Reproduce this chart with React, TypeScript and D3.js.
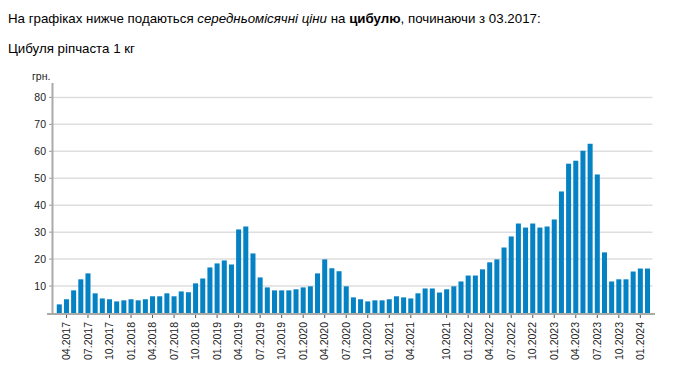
import React from "react";
import * as d3 from "d3";

const months: string[] = [
  "03.2017","04.2017","05.2017","06.2017","07.2017","08.2017","09.2017","10.2017","11.2017","12.2017",
  "01.2018","02.2018","03.2018","04.2018","05.2018","06.2018","07.2018","08.2018","09.2018","10.2018","11.2018","12.2018",
  "01.2019","02.2019","03.2019","04.2019","05.2019","06.2019","07.2019","08.2019","09.2019","10.2019","11.2019","12.2019",
  "01.2020","02.2020","03.2020","04.2020","05.2020","06.2020","07.2020","08.2020","09.2020","10.2020","11.2020","12.2020",
  "01.2021","02.2021","03.2021","04.2021","05.2021","06.2021","08.2021","09.2021","10.2021","11.2021","12.2021",
  "01.2022","02.2022","03.2022","04.2022","05.2022","06.2022","07.2022","08.2022","09.2022","10.2022","11.2022","12.2022",
  "01.2023","02.2023","03.2023","04.2023","05.2023","06.2023","07.2023","08.2023","09.2023","10.2023","11.2023","12.2023",
  "01.2024","02.2024"
];

const prices: number[] = [
  3.2, 5.1, 8.4, 12.5, 14.7, 7.3, 5.4, 5.1, 4.3, 4.7,
  5.1, 4.7, 5.1, 6.2, 6.2, 7.3, 6.2, 8.0, 7.7, 11.0, 12.8, 16.9,
  18.4, 19.5, 18.0, 31.0, 32.1, 22.1, 13.2, 9.5, 8.4, 8.4, 8.4, 8.8,
  9.5, 9.9, 14.7, 19.9, 16.6, 15.5, 9.9, 5.8, 5.1, 4.3, 4.7, 4.7,
  5.1, 6.2, 5.8, 5.4, 7.3, 9.1, 9.1, 7.6, 8.8, 9.9, 11.7,
  13.9, 13.9, 16.2, 18.8, 19.9, 24.3, 28.4, 33.2, 31.7, 33.2, 31.7, 32.1,
  34.7, 45.1, 55.4, 56.5, 60.2, 62.8, 51.4, 22.5, 11.7, 12.5, 12.5, 15.4,
  16.5, 16.5
];

const yTicks: number[] = [10, 20, 30, 40, 50, 60, 70, 80];
const tickMonths: string[] = ["01", "04", "07", "10"];

export default function App() {
  const W = 678, H = 381;
  const x = d3.scaleBand<string>().domain(months).range([55.7, 651.1]).paddingInner(0.3).paddingOuter(0.15);
  const y = d3.scaleLinear().domain([0, 80]).range([313, 97.4]);
  const font = "Arial, 'Liberation Sans', sans-serif";
  const xTickCats = months.filter((m) => tickMonths.includes(m.slice(0, 2)));
  const baseY = y(0);

  return (
    <svg width={W} height={H} style={{ position: "absolute", left: 0, top: 0, background: "#fff" }} fontFamily={font}>
      <rect x={0} y={0} width={W} height={H} fill="#fff" />
      <text x={8} y={23} fontSize={13.3} fill="#000">
        <tspan>На графіках нижче подаються </tspan>
        <tspan fontStyle="italic">середньомісячні ціни</tspan>
        <tspan> на </tspan>
        <tspan fontWeight="bold">цибулю</tspan>
        <tspan>, починаючи з 03.2017:</tspan>
      </text>
      <text x={8} y={53} fontSize={13.3} fill="#000">Цибуля ріпчаста 1 кг</text>

      {yTicks.map((t) => (
        <g key={t}>
          <line x1={53} x2={652.5} y1={y(t)} y2={y(t)} stroke="#dedede" strokeWidth={1.5} />
          <line x1={49} x2={53} y1={y(t)} y2={y(t)} stroke="#999" strokeWidth={1} />
          <text x={46} y={y(t)} dy="0.35em" textAnchor="end" fontSize={10.5} fill="#222">{t}</text>
        </g>
      ))}
      <text x={32} y={80} fontSize={10.5} fill="#222">грн.</text>

      {months.map((m, i) => (
        <rect key={m} x={x(m)} y={y(prices[i])} width={x.bandwidth()} height={baseY - y(prices[i])} fill="#0582c3" />
      ))}

      <line x1={52.5} x2={52.5} y1={83} y2={314} stroke="#aaa" strokeWidth={2} />
      <line x1={47} x2={655} y1={314} y2={314} stroke="#aaa" strokeWidth={2} />

      {xTickCats.map((m) => {
        const cx = (x(m) as number) + x.bandwidth() / 2;
        return (
          <g key={m}>
            <line x1={cx} x2={cx} y1={315} y2={318} stroke="#555" strokeWidth={1} />
            <text transform={`translate(${cx},322) rotate(-90)`} dy="0.35em" textAnchor="end" fontSize={10.5} fill="#222">{m}</text>
          </g>
        );
      })}
    </svg>
  );
}
